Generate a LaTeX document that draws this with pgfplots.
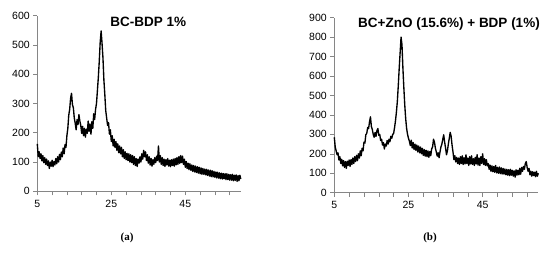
\documentclass[border=0pt]{standalone}
\usepackage{fontspec}
\setmainfont{Liberation Sans}
\newfontfamily\capfont{Liberation Serif}
\usepackage{pgfplots}
\pgfplotsset{compat=1.18}
\definecolor{axgray}{RGB}{134,134,134}

\pgfplotstableread{
x y
5.00 162
5.25 118
5.50 135
5.75 112
6.00 128
6.25 104
6.50 122
6.75 98
7.00 115
7.25 92
7.50 110
7.75 88
8.00 104
8.25 78
8.50 100
8.75 86
9.00 106
9.25 84
9.50 102
9.75 90
10.00 112
10.25 94
10.50 118
10.75 100
11.00 126
11.25 108
11.50 134
11.75 118
12.00 148
12.25 128
12.50 160
12.75 150
13.00 190
13.25 215
13.50 260
13.75 280
14.00 318
14.25 335
14.50 296
14.75 285
15.00 250
15.25 232
15.50 210
15.75 245
16.00 228
16.25 262
16.50 240
16.75 225
17.00 198
17.25 222
17.50 190
17.75 215
18.00 185
18.25 212
18.50 198
18.75 240
19.00 205
19.25 230
19.50 195
19.75 238
20.00 215
20.25 265
20.50 245
20.75 280
21.00 300
21.25 345
21.50 390
21.75 445
22.00 510
22.25 548
22.50 505
22.75 455
23.00 380
23.25 330
23.50 275
23.75 250
24.00 225
24.25 235
24.50 195
24.75 210
25.00 170
25.25 190
25.50 155
25.75 178
26.00 150
26.25 170
26.50 140
26.75 162
27.00 132
27.25 155
27.50 128
27.75 150
28.00 118
28.25 142
28.50 112
28.75 135
29.00 108
29.25 130
29.50 105
29.75 128
30.00 100
30.25 125
30.50 98
30.75 122
31.00 92
31.25 118
31.50 88
31.75 112
32.00 85
32.25 110
32.50 96
32.75 118
33.00 100
33.25 128
33.50 110
33.75 140
34.00 118
34.25 135
34.50 105
34.75 125
35.00 96
35.25 118
35.50 90
35.75 112
36.00 86
36.25 108
36.50 92
36.75 115
37.00 98
37.25 120
37.50 105
37.75 155
38.00 100
38.25 122
38.50 92
38.75 115
39.00 88
39.25 110
39.50 85
39.75 108
40.00 90
40.25 112
40.50 86
40.75 106
41.00 84
41.25 108
41.50 88
41.75 110
42.00 86
42.25 112
42.50 90
42.75 115
43.00 92
43.25 118
43.50 95
43.75 122
44.00 98
44.25 120
44.50 92
44.75 110
45.00 82
45.25 102
45.50 78
45.75 96
46.00 74
46.25 94
46.50 72
46.75 90
47.00 68
47.25 88
47.50 66
47.75 86
48.00 64
48.25 84
48.50 62
48.75 82
49.00 60
49.25 80
49.50 58
49.75 78
50.00 58
50.25 76
50.50 56
50.75 75
51.00 54
51.25 73
51.50 52
51.75 72
52.00 50
52.25 70
52.50 49
52.75 68
53.00 48
53.25 66
53.50 46
53.75 65
54.00 45
54.25 63
54.50 43
54.75 62
55.00 42
55.25 61
55.50 43
55.75 60
56.00 40
56.25 60
56.50 40
56.75 58
57.00 38
57.25 57
57.50 38
57.75 58
58.00 36
58.25 55
58.50 37
58.75 56
59.00 34
59.25 54
59.50 36
59.75 55
60.00 42
}\dataA

\pgfplotstableread{
x y
5.00 285
5.25 235
5.50 215
5.75 195
6.00 205
6.25 168
6.50 185
6.75 150
7.00 172
7.25 138
7.50 165
7.75 130
8.00 160
8.25 125
8.50 162
8.75 140
9.00 168
9.25 135
9.50 170
9.75 145
10.00 178
10.25 150
10.50 185
10.75 160
11.00 192
11.25 165
11.50 200
11.75 178
12.00 215
12.25 190
12.50 228
12.75 215
13.00 260
13.25 255
13.50 298
13.75 305
14.00 335
14.25 330
14.50 365
14.75 390
15.00 340
15.25 325
15.50 300
15.75 285
16.00 310
16.25 290
16.50 320
16.75 330
17.00 295
17.25 300
17.50 268
17.75 275
18.00 245
18.25 258
18.50 225
18.75 250
19.00 240
19.25 268
19.50 250
19.75 275
20.00 262
20.25 290
20.50 280
20.75 300
21.00 305
21.25 335
21.50 370
21.75 415
22.00 470
22.25 550
22.50 640
22.75 720
23.00 800
23.25 760
23.50 640
23.75 540
24.00 450
24.25 380
24.50 330
24.75 300
25.00 280
25.25 265
25.50 242
25.75 270
26.00 230
26.25 258
26.50 222
26.75 250
27.00 218
27.25 245
27.50 210
27.75 240
28.00 205
28.25 235
28.50 200
28.75 228
29.00 192
29.25 222
29.50 188
29.75 218
30.00 185
30.25 215
30.50 182
30.75 212
31.00 190
31.25 225
31.50 235
31.75 275
32.00 260
32.25 230
32.50 210
32.75 188
33.00 205
33.25 180
33.50 210
33.75 235
34.00 250
34.25 275
34.50 298
34.75 260
35.00 230
35.25 195
35.50 215
35.75 250
36.00 280
36.25 310
36.50 290
36.75 245
37.00 210
37.25 170
37.50 190
37.75 158
38.00 182
38.25 150
38.50 178
38.75 145
39.00 185
39.25 150
39.50 190
39.75 145
40.00 180
40.25 148
40.50 195
40.75 150
41.00 178
41.25 140
41.50 185
41.75 148
42.00 190
42.25 145
42.50 175
42.75 140
43.00 182
43.25 148
43.50 195
43.75 142
44.00 178
44.25 140
44.50 185
44.75 150
45.00 200
45.25 145
45.50 175
45.75 140
46.00 170
46.25 138
46.50 150
46.75 120
47.00 142
47.25 110
47.50 138
47.75 108
48.00 135
48.25 105
48.50 140
48.75 102
49.00 130
49.25 100
49.50 132
49.75 98
50.00 128
50.25 96
50.50 125
50.75 95
51.00 122
51.25 92
51.50 120
51.75 90
52.00 118
52.25 88
52.50 120
52.75 90
53.00 115
53.25 85
53.50 112
53.75 80
54.00 118
54.25 90
54.50 115
54.75 92
55.00 125
55.25 95
55.50 130
55.75 110
56.00 135
56.25 120
56.50 150
56.75 160
57.00 130
57.25 110
57.50 125
57.75 92
58.00 110
58.25 85
58.50 108
58.75 88
59.00 105
59.25 82
59.50 110
59.75 85
60.00 100
}\dataB

\pgfplotsset{
  xrdpanel/.style={
    scale only axis,
    anchor=south west,
    xmin=5, xmax=60, ymin=0,
    axis x line=bottom, axis y line=left,
    axis line style={-, draw=axgray, line width=0.7pt},
    xtick={5,25,45},
    minor xtick={9,13,17,21,29,33,37,41,49,53,57},
    tick align=outside,
    major tick length=4pt, minor tick length=4pt,
    every tick/.style={axgray, line width=0.6pt},
    tick label style={font=\fontsize{10.5}{12}\selectfont, black},
    xticklabel style={yshift=-1pt},
    /pgf/number format/assume math mode=true,
    clip=false,
  },
  xrdline/.style={black, line width=1.35pt, line join=round},
}

\begin{document}
\begin{tikzpicture}[x=1pt,y=1pt]
\useasboundingbox (0,0) rectangle (550,256);

\begin{axis}[xrdpanel, at={(37.3pt,64.7pt)}, width=203.5pt, height=175.6pt,
    ymax=600, ytick={0,100,...,600}]
  \addplot[xrdline] table[x=x, y=y] {\dataA};
\end{axis}

\begin{axis}[xrdpanel, at={(334.3pt,63.3pt)}, width=204pt, height=175pt,
    ymax=900, ytick={0,100,...,900}]
  \addplot[xrdline] table[x=x, y=y] {\dataB};
\end{axis}

\node[font=\fontsize{13.5}{15}\selectfont\bfseries] at (148.3,234.3) {BC-BDP 1\%};
\node[font=\fontsize{13.5}{15}\selectfont\bfseries] at (449,232) {BC+ZnO (15.6\%) + BDP (1\%)};
\node[font=\capfont\fontsize{11}{13}\selectfont\bfseries] at (127,18) {(a)};
\node[font=\capfont\fontsize{11}{13}\selectfont\bfseries] at (430,18) {(b)};
\end{tikzpicture}
\end{document}
